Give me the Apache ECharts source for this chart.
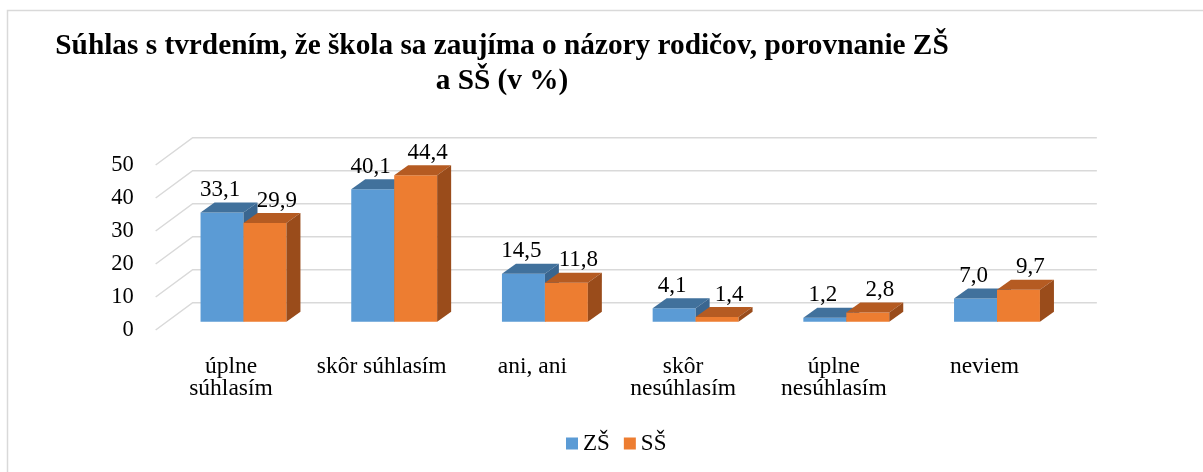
<!DOCTYPE html>
<html>
<head>
<meta charset="utf-8">
<script src="https://cdn.jsdelivr.net/npm/echarts@6/dist/echarts.min.js"></script>
<style>
  html, body { margin: 0; padding: 0; background: #fff; }
  #chart { width: 1203px; height: 472px; }
</style>
</head>
<body>
<div id="chart"></div>
<script>
const categories = ['úplne\nsúhlasím', 'skôr súhlasím', 'ani, ani', 'skôr\nnesúhlasím', 'úplne\nnesúhlasím', 'neviem']
const zsValues = [33.1, 40.1, 14.5, 4.1, 1.2, 7.0]
const ssValues = [29.9, 44.4, 11.8, 1.4, 2.8, 9.7]
const yTicks = [0, 10, 20, 30, 40, 50]

const FONT = '"Liberation Serif", "Times New Roman", serif'
// fake 3d offsets (px)
const WALL = [37, -27.3]   // back wall vs front floor edge
const PLANE = [12.5, -8.3] // bar row vs front floor edge
const DEPTH = [14, -10]    // bar depth

const fmt = v => v.toFixed(1).replace('.', ',')

function renderGridLine(params, api) {
  const cs = params.coordSys
  const y = api.coord([0, api.value(1)])[1]
  const x0 = cs.x
  const x1 = cs.x + cs.width
  return {
    type: 'polyline',
    shape: { points: [[x0, y], [x0 + WALL[0], y + WALL[1]], [x1 + WALL[0], y + WALL[1]]] },
    style: { stroke: '#d9d9d9', lineWidth: 1.5, fill: null }
  }
}

function barRenderer(side, colors, labelDx) {
  return function (params, api) {
    const i = api.value(0)
    const v = api.value(1)
    const c = api.coord([i, v])
    const b = api.coord([i, 0])
    const bw = api.size([1, 0])[0] * 0.285
    const x = c[0] + PLANE[0] - bw + side * bw
    const yt = c[1] + PLANE[1]
    const yb = b[1] + PLANE[1]
    const dx = DEPTH[0]
    const dy = DEPTH[1]
    return {
      type: 'group',
      children: [
        {
          type: 'rect',
          shape: { x: x, y: yt, width: bw, height: yb - yt },
          style: { fill: colors[0] }
        },
        {
          type: 'polygon',
          shape: { points: [[x, yt], [x + bw, yt], [x + bw + dx, yt + dy], [x + dx, yt + dy]] },
          style: { fill: colors[1] }
        },
        {
          type: 'polygon',
          shape: { points: [[x + bw, yt], [x + bw + dx, yt + dy], [x + bw + dx, yb + dy], [x + bw, yb]] },
          style: { fill: colors[2] }
        },
        {
          type: 'text',
          style: {
            text: fmt(v),
            x: x + bw / 2 + labelDx,
            y: yt - 22.5,
            fill: '#000',
            font: '23px ' + FONT,
            align: 'center',
            verticalAlign: 'middle',
            textAlign: 'center',
            textVerticalAlign: 'middle'
          }
        }
      ]
    }
  }
}

const chart = echarts.init(document.getElementById('chart'))

chart.setOption({
  animation: false,
  title: {
    text: 'Súhlas s tvrdením, že škola sa zaujíma o názory rodičov, porovnanie ZŠ\na SŠ (v %)',
    left: 502,
    top: 29,
    padding: 0,
    textAlign: 'center',
    textStyle: {
      fontFamily: FONT,
      fontSize: 29.3,
      fontWeight: 'bold',
      lineHeight: 35,
      color: '#000'
    }
  },
  legend: {
    data: ['ZŠ', 'SŠ'],
    left: 561,
    top: 427,
    icon: 'rect',
    itemWidth: 12,
    itemHeight: 12,
    itemGap: 14,
    textStyle: { fontFamily: FONT, fontSize: 23, color: '#000' }
  },
  graphic: [{
    type: 'rect',
    z: -10,
    shape: { x: 7.5, y: 10.5, width: 1300, height: 600 },
    style: { fill: 'none', stroke: '#d9d9d9', lineWidth: 1.5 }
  }],
  grid: {
    left: 155.65,
    right: 143.15,
    top: 165,
    bottom: 142
  },
  xAxis: {
    type: 'category',
    data: categories,
    axisLine: { show: false },
    axisTick: { show: false },
    axisLabel: {
      interval: 0,
      margin: 26,
      fontFamily: FONT,
      fontSize: 23.5,
      lineHeight: 22,
      color: '#000'
    }
  },
  yAxis: {
    type: 'value',
    min: 0,
    max: 50,
    interval: 10,
    axisLine: { show: false },
    axisTick: { show: false },
    splitLine: { show: false },
    axisLabel: {
      margin: 22,
      padding: [3, 0, 0, 0],
      fontFamily: FONT,
      fontSize: 22.5,
      color: '#000'
    }
  },
  series: [
    {
      type: 'custom',
      silent: true,
      renderItem: renderGridLine,
      data: yTicks.map(v => [0, v]),
      z: 1
    },
    {
      name: 'ZŠ',
      type: 'custom',
      itemStyle: { color: '#5b9bd5' },
      renderItem: barRenderer(0, ['#5b9bd5', '#41719c', '#3a6690'], -2),
      data: zsValues.map((v, i) => [i, v]),
      z: 2
    },
    {
      name: 'SŠ',
      type: 'custom',
      itemStyle: { color: '#ed7d31' },
      renderItem: barRenderer(1, ['#ed7d31', '#b55b22', '#9a4c1b'], 12),
      data: ssValues.map((v, i) => [i, v]),
      z: 2
    }
  ]
})
</script>
</body>
</html>
